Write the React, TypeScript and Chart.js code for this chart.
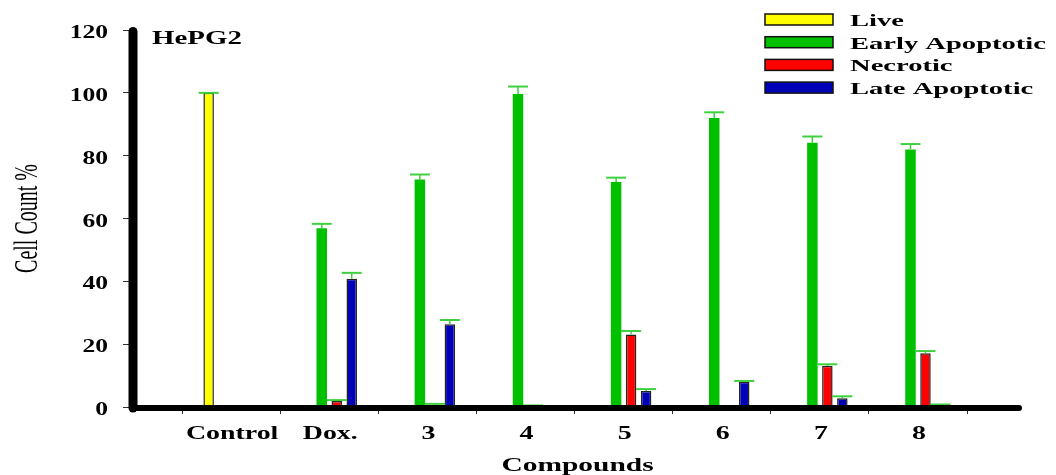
import React, { useEffect, useRef } from "react";
import { Chart, registerables } from "chart.js";

Chart.register(...registerables);

// ---- data ----
const categories = ["Control", "Dox.", "3", "4", "5", "6", "7", "8"];
const seriesNames = ["Live", "Early Apoptotic", "Necrotic", "Late Apoptotic"];

const liveValues = [100, null, null, null, null, null, null, null];
const earlyValues = [null, 56.9, 72.4, 99.6, 71.6, 92.0, 84.1, 82.0];
const necroticValues = [null, 1.9, 0.5, 0.2, 23.1, null, 13.1, 17.1];
const lateValues = [null, 40.8, 26.3, null, 5.1, 8.0, 2.8, 0.3];

const liveErrors = [0, null, null, null, null, null, null, null];
const earlyErrors = [null, 1.4, 1.6, 2.4, 1.4, 1.8, 2.0, 1.7];
const necroticErrors = [null, 0.3, 0.5, 0.3, 1.1, null, 0.5, 0.7];
const lateErrors = [null, 1.9, 1.4, null, 0.6, 0.3, 0.6, 0.5];

const yTickValues = [0, 20, 40, 60, 80, 100, 120];
const panelLabel = "HePG2";
const xTitle = "Compounds";
const yTitle = "Cell Count %";

const seriesColors = ["#ffff00", "#00c000", "#ff0000", "#0000b8"];
const seriesBorders = ["#222222", "#00c000", "#222222", "#222222"];
const errorColor = "#3fd03f";

const allValues = [liveValues, earlyValues, necroticValues, lateValues];
const allErrors = [liveErrors, earlyErrors, necroticErrors, lateErrors];

const SERIF = '"Liberation Serif", "Times New Roman", serif';

function stretchedText(
  ctx: CanvasRenderingContext2D,
  text: string,
  x: number,
  y: number,
  font: string,
  sx: number,
  align: CanvasTextAlign
) {
  ctx.save();
  ctx.font = font;
  ctx.fillStyle = "#000";
  ctx.textBaseline = "alphabetic";
  ctx.textAlign = align;
  ctx.translate(x, y);
  ctx.scale(sx, 1);
  ctx.fillText(text, 0, 0);
  ctx.restore();
}

const decorPlugin = {
  id: "decor",
  afterDatasetsDraw(chart: any) {
    const ctx: CanvasRenderingContext2D = chart.ctx;
    const yScale = chart.scales.y;
    const area = chart.chartArea;

    // error bars
    chart.data.datasets.forEach((ds: any, di: number) => {
      const meta = chart.getDatasetMeta(di);
      const errs = allErrors[di];
      meta.data.forEach((bar: any, i: number) => {
        const v = allValues[di][i];
        const e = errs[i];
        if (v == null || e == null) return;
        const yTop = yScale.getPixelForValue(v);
        const yCap = yScale.getPixelForValue(v + e);
        ctx.save();
        ctx.strokeStyle = errorColor;
        ctx.lineWidth = 1.5;
        ctx.beginPath();
        ctx.moveTo(bar.x, yTop);
        ctx.lineTo(bar.x, yCap);
        ctx.stroke();
        ctx.lineWidth = 2;
        ctx.beginPath();
        ctx.moveTo(bar.x - 10, yCap);
        ctx.lineTo(bar.x + 10, yCap);
        ctx.stroke();
        ctx.restore();
      });
    });

    // thick axes with rounded ends
    ctx.save();
    ctx.strokeStyle = "#000";
    ctx.lineCap = "round";
    ctx.lineWidth = 9;
    ctx.beginPath();
    ctx.moveTo(area.left, area.top + 1.5);
    ctx.lineTo(area.left, area.bottom + 1);
    ctx.stroke();
    ctx.lineWidth = 6;
    ctx.beginPath();
    ctx.moveTo(area.left, area.bottom + 1);
    ctx.lineTo(area.right - 3, area.bottom + 1);
    ctx.stroke();
    ctx.restore();
  },
  afterDraw(chart: any) {
    const ctx: CanvasRenderingContext2D = chart.ctx;
    const xScale = chart.scales.x;
    const yScale = chart.scales.y;
    const area = chart.chartArea;

    // y tick labels
    yTickValues.forEach((v) => {
      const py = yScale.getPixelForValue(v);
      stretchedText(ctx, String(v), 108, py + 8, `bold 18px ${SERIF}`, 1.42, "right");
    });

    // x tick labels
    categories.forEach((c, i) => {
      const px = xScale.getPixelForValue(i + 1);
      stretchedText(ctx, c, px + 1, 438.5, `bold 18px ${SERIF}`, 1.55, "center");
    });

    // x title
    stretchedText(ctx, xTitle, (area.left + area.right) / 2, 471, `bold 19px ${SERIF}`, 1.55, "center");

    // y title (rotated)
    ctx.save();
    ctx.font = `20px ${SERIF}`;
    ctx.fillStyle = "#000";
    ctx.textAlign = "center";
    ctx.textBaseline = "alphabetic";
    ctx.translate(37, (area.top + area.bottom) / 2);
    ctx.rotate(-Math.PI / 2);
    ctx.scale(1, 1.7);
    ctx.fillText(yTitle, 0, 0);
    ctx.restore();

    // panel label
    stretchedText(ctx, panelLabel, 152, 44, `bold 19px ${SERIF}`, 1.52, "left");

    // legend
    chart.data.datasets.forEach((ds: any, di: number) => {
      const cy = 19.5 + di * 22.7;
      ctx.save();
      ctx.fillStyle = ds.backgroundColor;
      ctx.fillRect(765, cy - 5.5, 68, 11);
      ctx.strokeStyle = "#111";
      ctx.lineWidth = 1.5;
      ctx.strokeRect(765, cy - 5.5, 68, 11);
      ctx.restore();
      stretchedText(ctx, ds.label, 850, cy + 6.5, `bold 17px ${SERIF}`, 1.68, "left");
    });
  },
};

export default function App() {
  const canvasRef = useRef<HTMLCanvasElement | null>(null);

  useEffect(() => {
    document.body.style.margin = "0";
    const canvas = canvasRef.current;
    if (!canvas) return;

    const datasets = seriesNames.map((name, si) => ({
      label: name,
      data: allValues[si].map((v, i) => ({ x: i + 1, y: v })),
      backgroundColor: seriesColors[si],
      borderColor: seriesBorders[si],
      borderWidth: si === 1 ? 0 : 1.5,
      borderSkipped: "bottom" as const,
      categoryPercentage: 0.611,
      barPercentage: 0.7,
    }));

    const chart = new Chart(canvas, {
      type: "bar",
      data: { datasets },
      plugins: [decorPlugin],
      options: {
        animation: false,
        responsive: false,
        maintainAspectRatio: false,
        devicePixelRatio: 1,
        layout: { padding: { left: 0, right: 34, top: 30, bottom: 0 } },
        plugins: {
          legend: { display: false },
          tooltip: { enabled: false },
          title: { display: false },
        },
        scales: {
          x: {
            type: "linear",
            offset: false,
            min: 0,
            max: 9.06,
            afterBuildTicks: (s: any) => {
              s.ticks = categories.map((_, i) => ({ value: i + 1 }));
            },
            afterFit: (s: any) => {
              s.height = 68;
            },
            ticks: { display: false },
            border: { display: false },
            grid: {
              display: true,
              drawOnChartArea: false,
              drawTicks: true,
              tickLength: 7,
              color: "#333",
              lineWidth: 1,
            },
          },
          y: {
            type: "linear",
            min: 0,
            max: 120,
            afterBuildTicks: (s: any) => {
              s.ticks = yTickValues.map((v) => ({ value: v }));
            },
            afterFit: (s: any) => {
              s.width = 133;
            },
            ticks: { display: false, stepSize: 20 },
            border: { display: false },
            grid: {
              display: true,
              drawOnChartArea: false,
              drawTicks: true,
              tickLength: 10,
              color: "#333",
              lineWidth: 1,
            },
          },
        },
      } as any,
    });

    return () => {
      chart.destroy();
    };
  }, []);

  return (
    <div style={{ width: 1056, height: 475, position: "relative" }}>
      <canvas ref={canvasRef} width={1056} height={475} style={{ display: "block" }} />
    </div>
  );
}
